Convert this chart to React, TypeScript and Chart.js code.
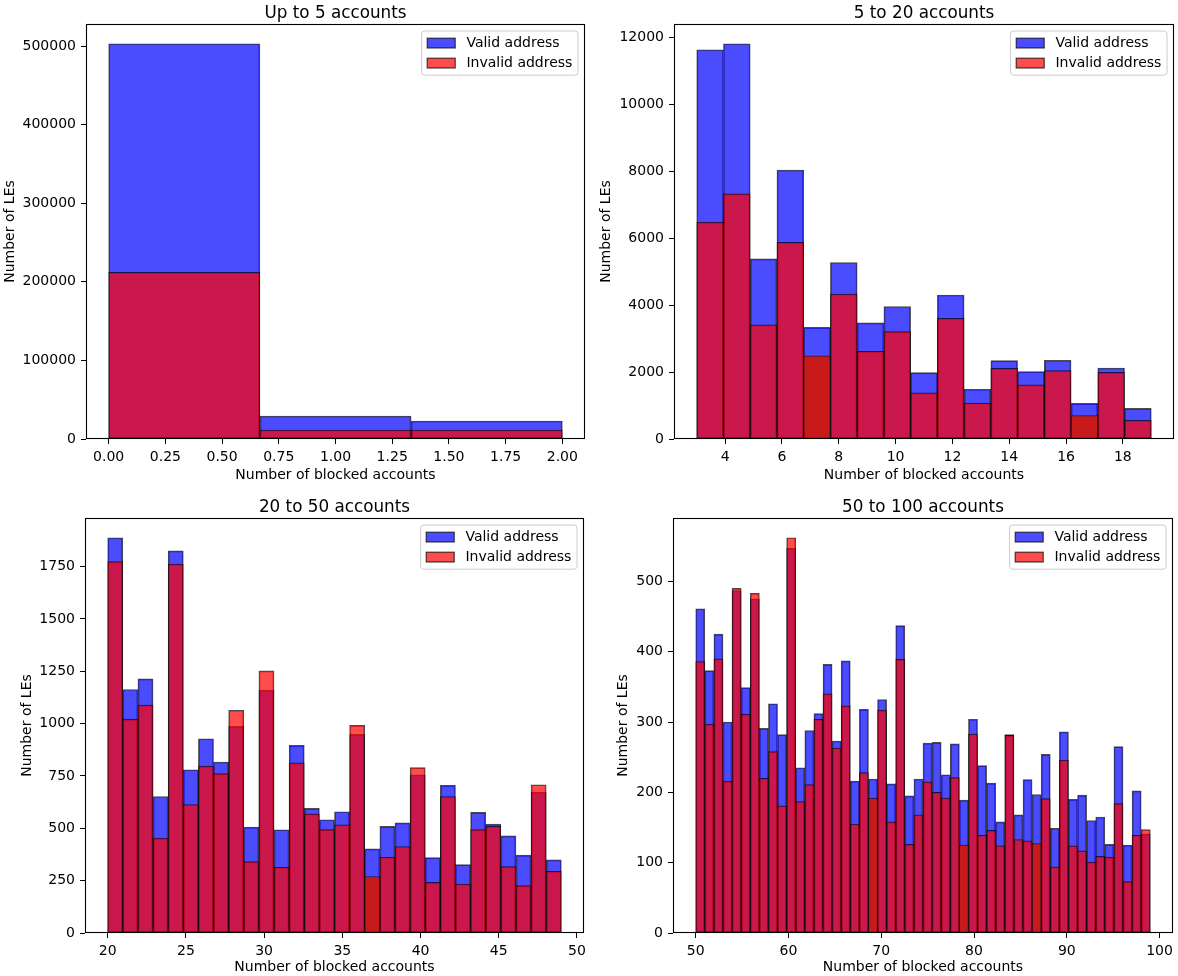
import React, { useEffect, useRef } from 'react';
import { Chart, registerables } from 'chart.js';

Chart.register(...registerables);

const FONT = '"DejaVu Sans", "Liberation Sans", sans-serif';

// ---------- shared text ----------
const xAxisLabel = 'Number of blocked accounts';
const yAxisLabel = 'Number of LEs';
const legendLabels = ['Valid address', 'Invalid address'];

// ---------- panel 1: Up to 5 accounts ----------
const p1Title = 'Up to 5 accounts';
const p1BinRange = [0, 2];
const p1Valid = [503000, 29300, 22900];
const p1Invalid = [212000, 11500, 11500];
const p1DarkBars: number[] = [];
const p1XTicks = [0, 0.25, 0.5, 0.75, 1, 1.25, 1.5, 1.75, 2];
const p1XTickLabels = ['0.00', '0.25', '0.50', '0.75', '1.00', '1.25', '1.50', '1.75', '2.00'];
const p1YTicks = [0, 100000, 200000, 300000, 400000, 500000];
const p1YTickLabels = ['0', '100000', '200000', '300000', '400000', '500000'];

// ---------- panel 2: 5 to 20 accounts ----------
const p2Title = '5 to 20 accounts';
const p2BinRange = [3, 19];
const p2Valid = [11620, 11800, 5380, 8030, 3335, 5270, 3465, 3955, 1980, 4300, 1485, 2340, 2010, 2350, 1065, 2120, 915];
const p2Invalid = [6475, 7320, 3405, 5875, 2480, 4330, 2620, 3205, 1375, 3605, 1075, 2110, 1615, 2040, 700, 1990, 560];
const p2DarkBars = [4, 14];
const p2XTicks = [4, 6, 8, 10, 12, 14, 16, 18];
const p2XTickLabels = ['4', '6', '8', '10', '12', '14', '16', '18'];
const p2YTicks = [0, 2000, 4000, 6000, 8000, 10000, 12000];
const p2YTickLabels = ['0', '2000', '4000', '6000', '8000', '10000', '12000'];

// ---------- panel 3: 20 to 50 accounts ----------
const p3Title = '20 to 50 accounts';
const p3BinRange = [20, 49];
const p3Valid = [1888, 1163, 1214, 652, 1825, 780, 928, 817, 987, 506, 1160, 493, 896, 595, 541, 579, 949, 402, 509, 526, 756, 360, 705, 327, 576, 520, 464, 372, 673, 349];
const p3Invalid = [1774, 1022, 1089, 453, 1762, 614, 797, 761, 1064, 341, 1252, 314, 813, 569, 494, 517, 992, 270, 362, 413, 790, 242, 652, 234, 494, 510, 317, 226, 708, 295];
const p3DarkBars = [17];
const p3XTicks = [20, 25, 30, 35, 40, 45, 50];
const p3XTickLabels = ['20', '25', '30', '35', '40', '45', '50'];
const p3YTicks = [0, 250, 500, 750, 1000, 1250, 1500, 1750];
const p3YTickLabels = ['0', '250', '500', '750', '1000', '1250', '1500', '1750'];

// ---------- panel 4: 50 to 100 accounts ----------
const p4Title = '50 to 100 accounts';
const p4BinRange = [50, 99];
const p4Valid = [461, 373, 425, 300, 487, 349, 475, 291, 326, 282, 547, 235, 288, 312, 382, 273, 387, 216, 318, 219, 332, 212, 437, 195, 219, 270, 271, 225, 269, 189, 304, 238, 213, 158, 282, 168, 218, 197, 254, 149, 286, 190, 196, 160, 165, 126, 265, 125, 202, 141];
const p4Invalid = [386, 297, 390, 216, 490, 311, 483, 220, 258, 181, 562, 187, 211, 304, 340, 263, 323, 155, 228, 192, 317, 158, 389, 126, 168, 215, 200, 192, 221, 125, 283, 139, 146, 124, 281, 133, 131, 127, 191, 94, 246, 124, 117, 101, 109, 108, 184, 73, 139, 147];
const p4DarkBars = [19, 29, 37];
const p4XTicks = [50, 60, 70, 80, 90, 100];
const p4XTickLabels = ['50', '60', '70', '80', '90', '100'];
const p4YTicks = [0, 100, 200, 300, 400, 500];
const p4YTickLabels = ['0', '100', '200', '300', '400', '500'];

// ---------- styles ----------
const VALID_COLOR = 'rgba(0,0,255,0.7)';
const INVALID_COLOR = 'rgba(255,0,0,0.7)';
const INVALID_DARK = 'rgb(200,26,26)';
const EDGE_COLOR = 'rgba(0,0,0,0.7)';

type PanelSpec = {
  title: string;
  binRange: number[];
  valid: number[];
  invalid: number[];
  dark: number[];
  xTicks: number[];
  xTickLabels: string[];
  yTicks: number[];
  yTickLabels: string[];
};

type PanelBox = {
  x: number; y: number; w: number; h: number;
  plotLeft: number; plotRight: number; plotTop: number; plotBottom: number;
  yTitleX: number;
};

const specs: PanelSpec[] = [
  { title: p1Title, binRange: p1BinRange, valid: p1Valid, invalid: p1Invalid, dark: p1DarkBars, xTicks: p1XTicks, xTickLabels: p1XTickLabels, yTicks: p1YTicks, yTickLabels: p1YTickLabels },
  { title: p2Title, binRange: p2BinRange, valid: p2Valid, invalid: p2Invalid, dark: p2DarkBars, xTicks: p2XTicks, xTickLabels: p2XTickLabels, yTicks: p2YTicks, yTickLabels: p2YTickLabels },
  { title: p3Title, binRange: p3BinRange, valid: p3Valid, invalid: p3Invalid, dark: p3DarkBars, xTicks: p3XTicks, xTickLabels: p3XTickLabels, yTicks: p3YTicks, yTickLabels: p3YTickLabels },
  { title: p4Title, binRange: p4BinRange, valid: p4Valid, invalid: p4Invalid, dark: p4DarkBars, xTicks: p4XTicks, xTickLabels: p4XTickLabels, yTicks: p4YTicks, yTickLabels: p4YTickLabels },
];

const boxes: PanelBox[] = [
  { x: 0, y: 0, w: 589, h: 488, plotLeft: 86, plotRight: 585, plotTop: 24, plotBottom: 439, yTitleX: 10 },
  { x: 589, y: 0, w: 589, h: 488, plotLeft: 85, plotRight: 585, plotTop: 24, plotBottom: 439, yTitleX: 17 },
  { x: 0, y: 488, w: 589, h: 488, plotLeft: 85, plotRight: 584, plotTop: 30, plotBottom: 445, yTitleX: 27 },
  { x: 589, y: 488, w: 589, h: 488, plotLeft: 84, plotRight: 584, plotTop: 30, plotBottom: 445, yTitleX: 34 },
];

function makeDecorPlugin(title: string) {
  return {
    id: 'decor',
    afterDraw(chart: any) {
      const { ctx, chartArea: a } = chart;
      ctx.save();
      // spines
      ctx.strokeStyle = '#000';
      ctx.lineWidth = 1.1;
      ctx.strokeRect(Math.round(a.left) + 0.5, Math.round(a.top) + 0.5, Math.round(a.right - a.left) - 1, Math.round(a.bottom - a.top) - 1);
      // title
      ctx.fillStyle = '#000';
      ctx.font = `16.8px ${FONT}`;
      ctx.textAlign = 'center';
      ctx.textBaseline = 'alphabetic';
      ctx.fillText(title, (a.left + a.right) / 2, a.top - 6.5);
      // legend
      const fs = 14;
      ctx.font = `${fs}px ${FONT}`;
      const textW = Math.max(...legendLabels.map((l) => ctx.measureText(l).width));
      const pad = 0.4 * fs;
      const handleLen = 2 * fs;
      const handleH = 0.7 * fs;
      const handleTextPad = 0.8 * fs;
      const rowH = 13;
      const rowGap = 7;
      const boxW = pad + handleLen + handleTextPad + textW + pad;
      const boxH = pad * 2 + rowH * 2 + rowGap;
      const bx = a.right - 7 - boxW;
      const by = a.top + 7;
      ctx.beginPath();
      if ((ctx as any).roundRect) (ctx as any).roundRect(bx, by, boxW, boxH, 3);
      else ctx.rect(bx, by, boxW, boxH);
      ctx.fillStyle = 'rgba(255,255,255,0.8)';
      ctx.fill();
      ctx.strokeStyle = '#cccccc';
      ctx.lineWidth = 1;
      ctx.stroke();
      const colors = [VALID_COLOR, INVALID_COLOR];
      legendLabels.forEach((label, i) => {
        const cy = by + pad + rowH / 2 + i * (rowH + rowGap);
        ctx.fillStyle = colors[i];
        ctx.fillRect(bx + pad, cy - handleH / 2, handleLen, handleH);
        ctx.strokeStyle = EDGE_COLOR;
        ctx.lineWidth = 1.2;
        ctx.strokeRect(bx + pad, cy - handleH / 2, handleLen, handleH);
        ctx.fillStyle = '#000';
        ctx.textAlign = 'left';
        ctx.textBaseline = 'middle';
        ctx.fillText(label, bx + pad + handleLen + handleTextPad, cy);
      });
      ctx.restore();
    },
  };
}

function Panel({ spec, box }: { spec: PanelSpec; box: PanelBox }) {
  const ref = useRef<HTMLCanvasElement>(null);
  useEffect(() => {
    const canvas = ref.current;
    if (!canvas) return;
    const n = spec.valid.length;
    const [lo, hi] = spec.binRange;
    const binW = (hi - lo) / n;
    const centers = spec.valid.map((_, i) => lo + (i + 0.5) * binW);
    const span = hi - lo;
    const xMin = lo - 0.05 * span;
    const xMax = hi + 0.05 * span;
    const yMax = Math.max(...spec.valid, ...spec.invalid) * 1.05;
    const lineH = 14 * 1.2;
    const xTitleCenter = box.plotBottom + 36;

    const chart = new Chart(canvas, {
      type: 'bar',
      data: {
        datasets: [
          {
            label: legendLabels[0],
            data: spec.valid.map((v, i) => ({ x: centers[i], y: v })),
            backgroundColor: VALID_COLOR,
            borderColor: EDGE_COLOR,
            borderWidth: 1,
            borderSkipped: false,
            xAxisID: 'xb',
            order: 2,
          },
          {
            label: legendLabels[1],
            data: spec.invalid.map((v, i) => ({ x: centers[i], y: v })),
            backgroundColor: (c: any) => (spec.dark.includes(c.dataIndex) ? INVALID_DARK : INVALID_COLOR),
            borderColor: EDGE_COLOR,
            borderWidth: 1,
            borderSkipped: false,
            xAxisID: 'xb',
            order: 1,
          },
        ] as any,
      },
      options: {
        responsive: false,
        animation: false,
        devicePixelRatio: 1,
        grouped: false,
        barPercentage: 1,
        categoryPercentage: 1,
        layout: { padding: { left: 0, top: box.plotTop, right: box.w - box.plotRight, bottom: 0 } },
        plugins: { legend: { display: false }, tooltip: { enabled: false }, title: { display: false } },
        font: { family: FONT, size: 14 },
        scales: {
          xb: {
            type: 'linear',
            axis: 'x',
            position: 'bottom',
            display: false,
            offset: false,
            min: xMin,
            max: xMax,
            grid: { offset: false },
            afterBuildTicks: (s: any) => { s.ticks = []; },
          },
          x: {
            type: 'linear',
            position: 'bottom',
            offset: false,
            min: xMin,
            max: xMax,
            grid: { display: true, offset: false, drawOnChartArea: false, drawTicks: true, tickLength: 5, tickColor: '#000', tickWidth: 1 },
            border: { display: false },
            afterBuildTicks: (s: any) => { s.ticks = spec.xTicks.map((v) => ({ value: v })); },
            afterFit: (s: any) => { s.height = box.h - box.plotBottom; s.paddingLeft = 0; s.paddingRight = 0; },
            ticks: {
              autoSkip: false,
              maxRotation: 0,
              padding: 5,
              color: '#000',
              font: { family: FONT, size: 14 },
              callback: (v: any) => spec.xTickLabels[spec.xTicks.indexOf(Number(v))] ?? '',
            },
            title: {
              display: true,
              text: xAxisLabel,
              color: '#000',
              font: { family: FONT, size: 14 },
              padding: { top: 0, bottom: Math.max(0, box.h - xTitleCenter - lineH / 2) },
            },
          },
          y: {
            type: 'linear',
            position: 'left',
            min: 0,
            max: yMax,
            grid: { display: true, drawOnChartArea: false, drawTicks: true, tickLength: 5, tickColor: '#000', tickWidth: 1 },
            border: { display: false },
            afterBuildTicks: (s: any) => { s.ticks = spec.yTicks.map((v) => ({ value: v })); },
            afterFit: (s: any) => { s.width = box.plotLeft; s.paddingTop = 0; s.paddingBottom = 0; },
            ticks: {
              autoSkip: false,
              padding: 5,
              color: '#000',
              font: { family: FONT, size: 14 },
              callback: (v: any) => spec.yTickLabels[spec.yTicks.indexOf(Number(v))] ?? '',
            },
            title: {
              display: true,
              text: yAxisLabel,
              color: '#000',
              font: { family: FONT, size: 14 },
              padding: { top: box.yTitleX - lineH / 2, bottom: 0 },
            },
          },
        },
      } as any,
      plugins: [makeDecorPlugin(spec.title)],
    });
    return () => chart.destroy();
  }, [spec, box]);
  return (
    <canvas
      ref={ref}
      width={box.w}
      height={box.h}
      style={{ position: 'absolute', left: box.x, top: box.y, width: box.w, height: box.h }}
    />
  );
}

export default function App() {
  return (
    <div style={{ position: 'absolute', left: 0, top: 0, width: 1178, height: 976, background: '#fff', fontFamily: FONT }}>
      {specs.map((s, i) => (
        <Panel key={i} spec={s} box={boxes[i]} />
      ))}
    </div>
  );
}
